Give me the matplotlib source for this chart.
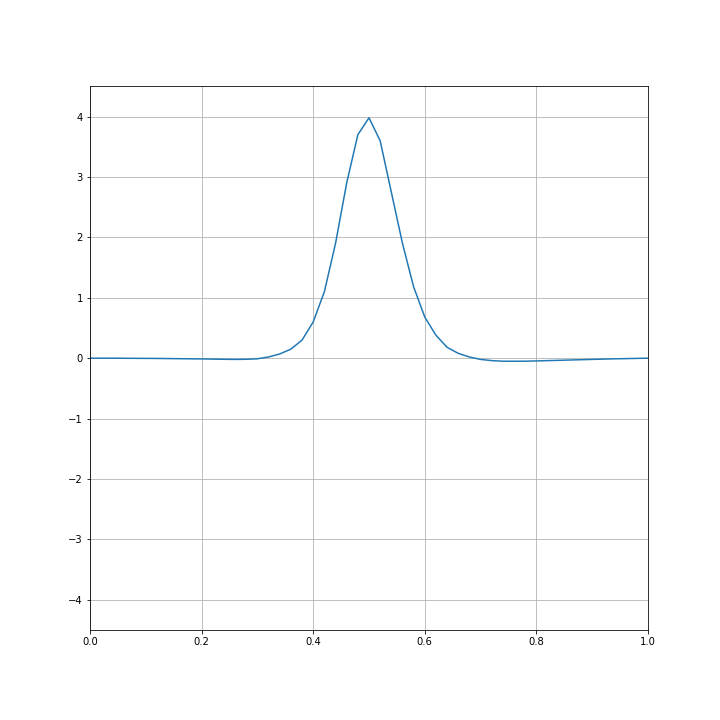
import numpy as np
import matplotlib.pyplot as plt

x = np.linspace(0, 1, 51)
y = [0.0, 0.0, 0.0, -0.001, -0.002, -0.003, -0.004, -0.006, -0.008, -0.010,
     -0.012, -0.015, -0.018, -0.02, -0.018, -0.01, 0.02, 0.07, 0.15, 0.3,
     0.6, 1.1, 1.9, 2.9, 3.7, 3.98, 3.6, 2.75, 1.9, 1.18,
     0.68, 0.38, 0.18, 0.08, 0.02, -0.02, -0.04, -0.05, -0.05, -0.05,
     -0.045, -0.04, -0.035, -0.03, -0.025, -0.02, -0.015, -0.01, -0.007, -0.003,
     0.0]

fig, ax = plt.subplots(figsize=(10, 10), dpi=72)
fig.subplots_adjust(bottom=0.125)
ax.plot(x, y)
ax.set_xlim(0, 1)
ax.set_ylim(-4.5, 4.5)
ax.grid(True)
plt.savefig('out.png')
